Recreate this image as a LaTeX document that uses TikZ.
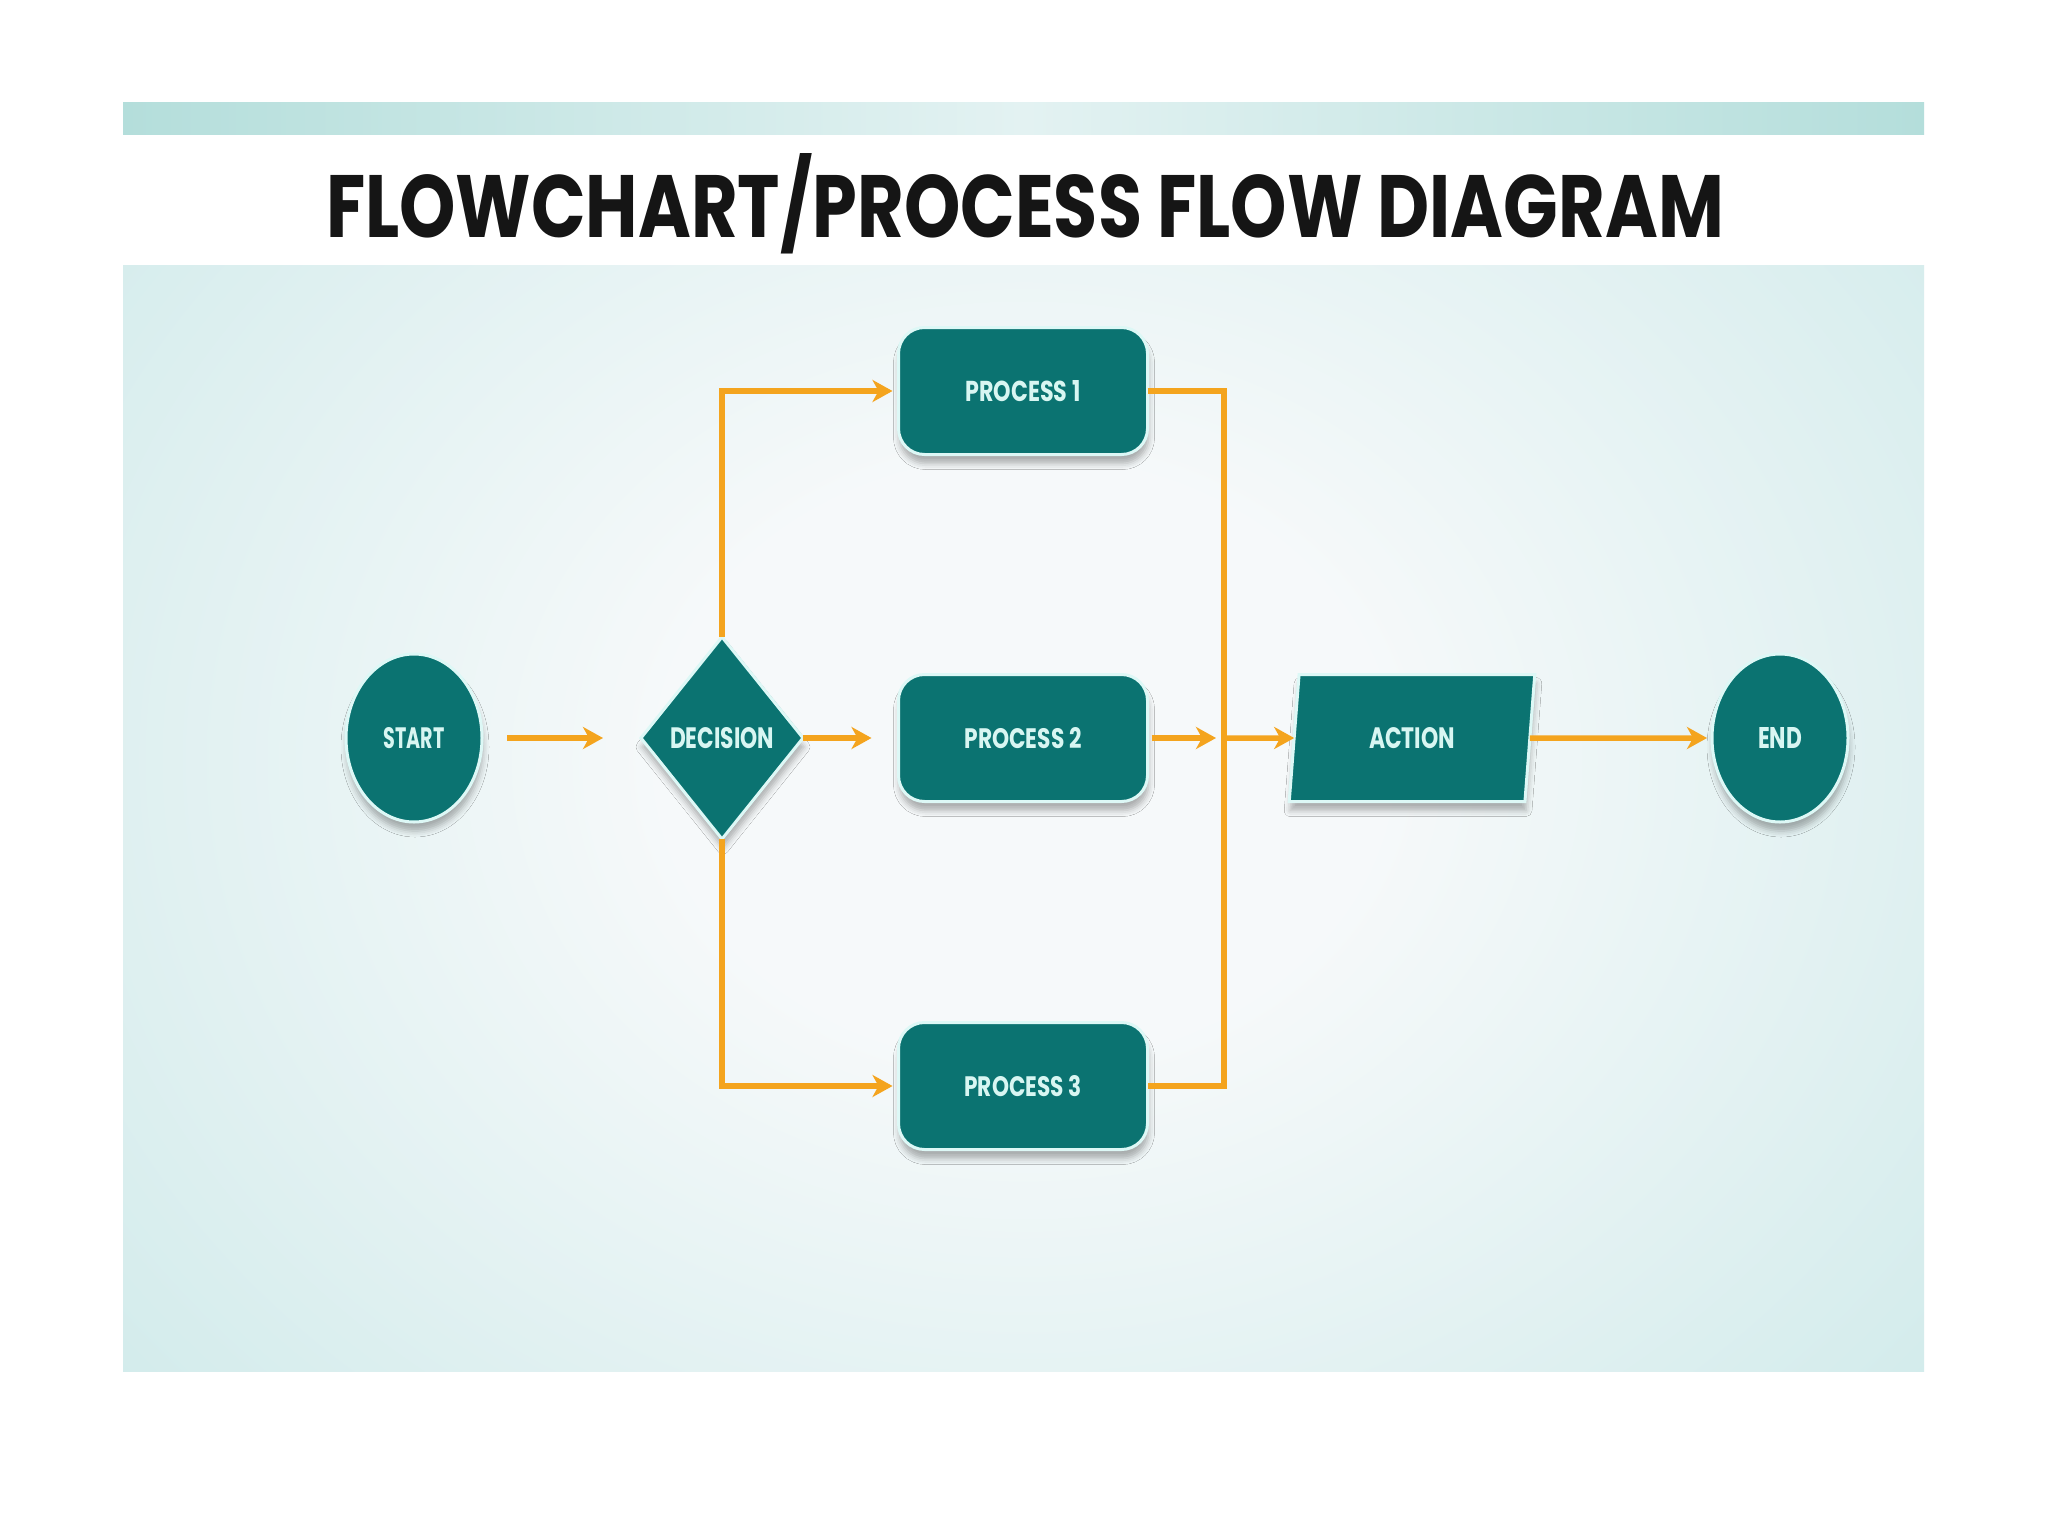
\documentclass[tikz,border=0pt]{standalone}
\usepackage{fontspec}
\setmainfont{Poppins}
\usetikzlibrary{shapes.geometric,arrows.meta,shadows.blur}
\definecolor{tealfill}{HTML}{0B7371}
\definecolor{rim}{HTML}{DDF8F6}
\definecolor{labtext}{HTML}{D8F6F2}
\definecolor{flow}{HTML}{F4A41E}
\definecolor{edgec}{HTML}{AFDBD8}
\definecolor{midc}{HTML}{D4ECEC}
\definecolor{centerc}{HTML}{F6F9FA}
\definecolor{bandedge}{HTML}{B4DEDB}
\definecolor{bandmid}{HTML}{E3F2F2}
\definecolor{titlec}{HTML}{151515}
\pgfdeclareradialshading{panelshade}{\pgfpoint{0bp}{0bp}}{color(0bp)=(centerc); color(10bp)=(centerc); color(32bp)=(midc); color(50bp)=(edgec)}
\newcommand\lab[2]{\resizebox{#1}{21pt}{\bfseries #2}}
\tikzset{
  base/.style={fill=tealfill, draw=rim, line width=3pt, text=labtext, inner sep=0pt, outer sep=0pt,
    blur shadow={shadow xshift=1pt, shadow yshift=-9pt, shadow blur radius=6pt, shadow opacity=30}},
  term/.style={base, ellipse, minimum width=136pt, minimum height=168pt},
  proc/.style={base, rectangle, rounded corners=26pt, minimum width=249pt, minimum height=127pt},
  dec/.style={base, diamond, minimum width=162pt, minimum height=202pt},
  act/.style={base, trapezium, trapezium left angle=80, trapezium right angle=100, trapezium stretches=true, minimum width=248pt, minimum height=127pt},
  flowline/.style={draw=flow, line width=5.5pt},
  arr/.style={flowline, -{Stealth[length=20pt,width=22pt,inset=6pt]}}
}
\begin{document}
\begin{tikzpicture}[x=1pt,y=-1pt]
\useasboundingbox (0,0) rectangle (2048,1536);
\fill[white] (0,0) rectangle (2048,1536);
% top band
\shade[left color=bandedge, right color=bandedge, middle color=bandmid] (123,103) rectangle (1924,135);
% main panel
\begin{scope}
\clip (123,265) rectangle (1924,1371);
\shade[shading=panelshade] (123,20) rectangle (1924,1500);
\end{scope}
% title
\node[anchor=base, text=titlec, inner sep=0pt] (title) at (1025,237) {\resizebox{1397pt}{84pt}{\bfseries FLOWCHART/PROCESS FLOW DIAGRAM}};
% nodes
\node[term] (start) at (414,738) {\lab{61pt}{START}};
\node[dec] (decision) at (722,738) {\lab{104pt}{DECISION}};
\node[proc] (p1) at (1023,391) {\lab{115pt}{PROCESS 1}};
\node[proc] (p2) at (1023,738) {\lab{117pt}{PROCESS 2}};
\node[proc] (p3) at (1023,1086) {\lab{117pt}{PROCESS 3}};
\node[act] (action) at (1412,738) {\lab{86pt}{ACTION}};
\node[term] (end) at (1780,738) {\lab{44pt}{END}};
\coordinate (jn) at (1224,738);
% connectors
\draw[arr, shorten <=25pt, shorten >=38pt] (start) -- (decision);
\draw[arr, shorten >=27pt] (decision) -- (p2);
\draw[arr, shorten <=4pt, shorten >=8pt] (p2) -- (jn);
\draw[flowline] (p1.east) -| (jn) |- (p3.east);
\draw[arr] (jn) -- (action);
\draw[arr, shorten >=5pt] (action) -- (end);
\draw[arr, shorten >=6pt] (decision.north) |- (p1.west);
\draw[arr, shorten >=6pt] (decision.south) |- (p3.west);
\end{tikzpicture}
\end{document}
